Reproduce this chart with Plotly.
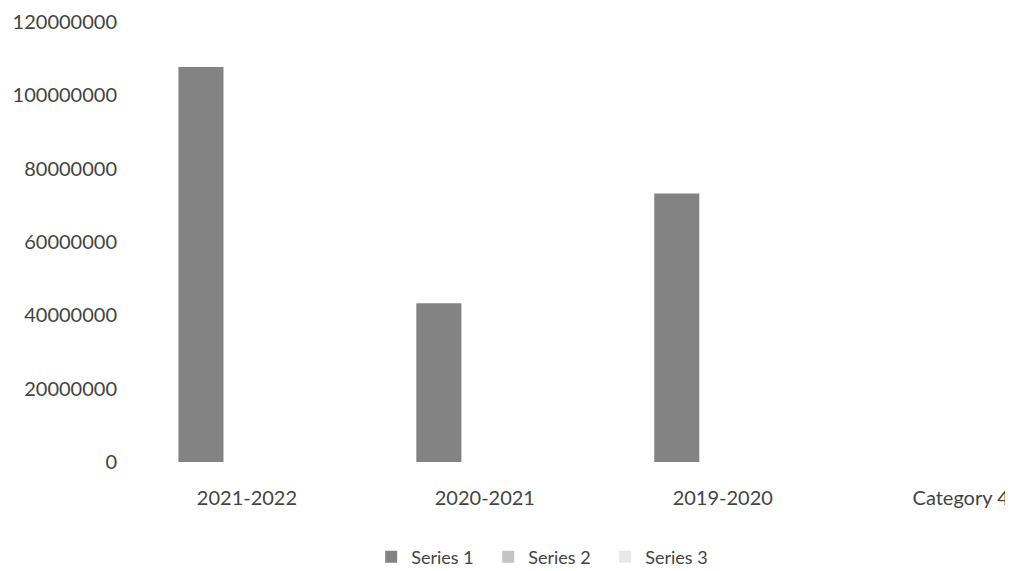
import plotly.graph_objects as go

categories = ["2021-2022", "2020-2021", "2019-2020", "Category 4"]
series1 = [107700000, 43300000, 73200000, None]
series2 = [None, None, None, None]
series3 = [None, None, None, None]
series_names = ["Series 1", "Series 2", "Series 3"]
series_colors = ["#838383", "#c4c4c4", "#e8e8e8"]
y_ticks = [0, 20000000, 40000000, 60000000, 80000000, 100000000, 120000000]

font_family = "Lato, 'Open Sans', sans-serif"
text_color = "#444444"

fig = go.Figure()
for name, vals, col in zip(series_names, [series1, series2, series3], series_colors):
    fig.add_trace(go.Bar(x=categories, y=vals, name=name, marker=dict(color=col, line=dict(width=0))))

fig.update_layout(
    width=1005, height=563,
    paper_bgcolor="white", plot_bgcolor="white",
    margin=dict(l=120, r=0, t=14, b=109, autoexpand=False),
    barmode="group", bargap=0.42, bargroupgap=0.02,
    font=dict(family=font_family, size=20, color=text_color),
    showlegend=True,
    legend=dict(orientation="h", xref="container", yref="container",
                x=0.536, xanchor="center", y=0.025, yanchor="middle",
                font=dict(size=18, color=text_color), itemwidth=30, traceorder="normal",
                entrywidth=72, entrywidthmode="pixels"),
)
fig.update_xaxes(range=[-0.5, 3.22], showline=False, showgrid=False, zeroline=False,
                 ticks="", tickfont=dict(size=20, color=text_color), ticklabelstandoff=22,
                 automargin=False)
fig.update_yaxes(range=[0, 120000000], tickvals=y_ticks, ticktext=[str(v) for v in y_ticks],
                 showgrid=False, zeroline=False, showline=False, ticks="",
                 tickfont=dict(size=20, color=text_color), ticklabelstandoff=10,
                 automargin=False)

fig.write_html("out.html")
